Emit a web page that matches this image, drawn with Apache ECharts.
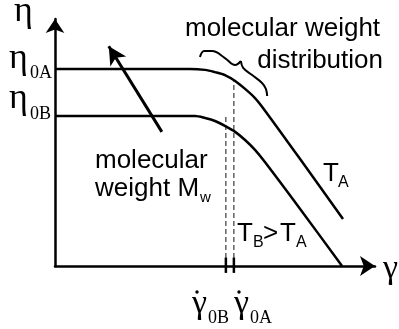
<!DOCTYPE html>
<html>
<head>
<meta charset="utf-8">
<script src="https://cdn.jsdelivr.net/npm/echarts@6/dist/echarts.min.js"></script>
<style>
  html, body { margin: 0; padding: 0; background: #fff; }
  #chart { width: 399px; height: 329px; }
</style>
</head>
<body>
<div id="chart"></div>
<script>
// Schematic flow curves: viscosity η against shear rate γ̇ (both in arbitrary units)
const curveA = [[0, 7.98], [4.22, 7.98], [4.69, 7.94], [5.0, 7.85], [5.31, 7.73], [5.63, 7.49],
                [5.94, 7.17], [6.25, 6.80], [6.5, 6.40], [7.66, 4.33], [9.0, 1.90]];
const curveB = [[0, 6.07], [4.38, 6.07], [4.69, 5.99], [5.0, 5.87], [5.31, 5.67], [5.63, 5.43],
                [5.94, 5.10], [6.25, 4.70], [6.56, 4.21], [7.66, 2.31], [8.97, 0]];

// Onset of shear thinning for each curve (γ̇0B, γ̇0A) and the height of its guide line
const onsetRates = [5.34, 5.59];
const guideTops = [6.07, 7.50];

// Curly brace spanning the molecular-weight-distribution region
const braceLeft = [[4.53, 8.46], [4.66, 8.70], [4.91, 8.70], [5.31, 8.42], [5.63, 8.14], [5.81, 8.30]];
const braceRight = [[5.81, 8.30], [5.88, 8.02], [6.16, 7.73], [6.47, 7.41], [6.59, 7.17], [6.63, 6.88]];

// Arrow: increasing molecular weight raises the plateau
const mwArrow = [[3.34, 5.43], [1.68, 8.90]];

// Label texts
const etaSubs = ['0A', '0B'];
const gammaSubs = ['0B', '0A'];

const SERIF = '"Liberation Serif", "DejaVu Serif", serif';
const SANS = '"Liberation Sans", Arial, sans-serif';

function lineSeries(data, width, extra) {
  return Object.assign({
    type: 'line', data: data, showSymbol: false, symbol: 'none', silent: true,
    lineStyle: { color: '#000', width: width }, clip: false, z: 3
  }, extra || {});
}

const series = [];
series.push(lineSeries(curveA, 2.5, { smooth: 0.3 }));
series.push(lineSeries(curveB, 2.5, { smooth: 0.3 }));
onsetRates.forEach(function (g, i) {
  // dashed guide from the axis up to the curve
  series.push(lineSeries([[g, 0], [g, guideTops[i]]], 1, {
    lineStyle: { color: '#111', width: 1, type: [5, 3] }, z: 2
  }));
  // short bar crossing the shear-rate axis
  series.push(lineSeries([[g, -0.28], [g, 0.34]], 2.5));
});
series.push(lineSeries(braceLeft, 2, { smooth: 0.4 }));
series.push(lineSeries(braceRight, 2, { smooth: 0.4 }));
series.push({
  type: 'line', data: [], silent: true,
  markLine: {
    silent: true, animation: false,
    symbol: ['none', 'arrow'], symbolSize: [14, 18],
    label: { show: false },
    lineStyle: { color: '#000', width: 3, type: 'solid' },
    data: [[{ coord: mwArrow[0] }, { coord: mwArrow[1] }]]
  }
});

// text helper: x = left (or right) edge, b = baseline
function txt(text, x, b, size, family, align) {
  const k = family === SERIF ? 0.34 : 0.35;
  return {
    type: 'text', x: x, y: b - k * size, silent: true, z: 10,
    style: {
      text: text, fill: '#000', align: align || 'left', verticalAlign: 'middle',
      font: size + 'px ' + family
    }
  };
}

function dot(cx, cy) {
  return { type: 'circle', shape: { cx: cx, cy: cy, r: 1.7 }, style: { fill: '#000' }, silent: true };
}

const graphic = [
  txt('η', 14, 24, 36, SERIF),
  txt('η', 9, 71, 36, SERIF), txt(etaSubs[0], 30, 79, 18, SERIF),
  txt('η', 9, 111, 36, SERIF), txt(etaSubs[1], 30, 120, 18, SERIF),
  txt('molecular weight', 185, 38, 26, SANS),
  txt('distribution', 383, 70, 26, SANS, 'right'),
  txt('molecular', 95, 170, 26, SANS),
  txt('weight M', 95, 198, 26, SANS), txt('w', 200, 203, 15, SANS),
  txt('T', 323, 183, 26, SANS), txt('A', 338, 188, 16, SANS),
  txt('T', 237, 243, 26, SANS), txt('B', 253, 248, 16, SANS),
  txt('>', 263, 243, 26, SANS),
  txt('T', 280, 243, 26, SANS), txt('A', 296, 248, 16, SANS),
  txt('γ', 192, 316, 34, SERIF), txt(gammaSubs[0], 208, 324, 18, SERIF),
  txt('γ', 234, 316, 34, SERIF), txt(gammaSubs[1], 250, 324, 18, SERIF),
  txt('γ', 383, 281, 34, SERIF),
  dot(197, 292), dot(239, 292)
];

function axis(arrowSize) {
  return {
    type: 'value', min: 0, max: 10,
    axisLine: {
      show: true, onZero: true, symbol: ['none', 'arrow'], symbolSize: arrowSize,
      lineStyle: { color: '#000', width: 2.5 }
    },
    axisTick: { show: false }, axisLabel: { show: false }, splitLine: { show: false }
  };
}

const chart = echarts.init(document.getElementById('chart'), null, { renderer: 'canvas' });
chart.setOption({
  animation: false,
  backgroundColor: '#fff',
  grid: { left: 55, right: 24, top: 19, bottom: 63, containLabel: false },
  xAxis: axis([15, 15]),
  yAxis: axis([14, 14]),
  series: series,
  graphic: graphic
});
</script>
</body>
</html>
